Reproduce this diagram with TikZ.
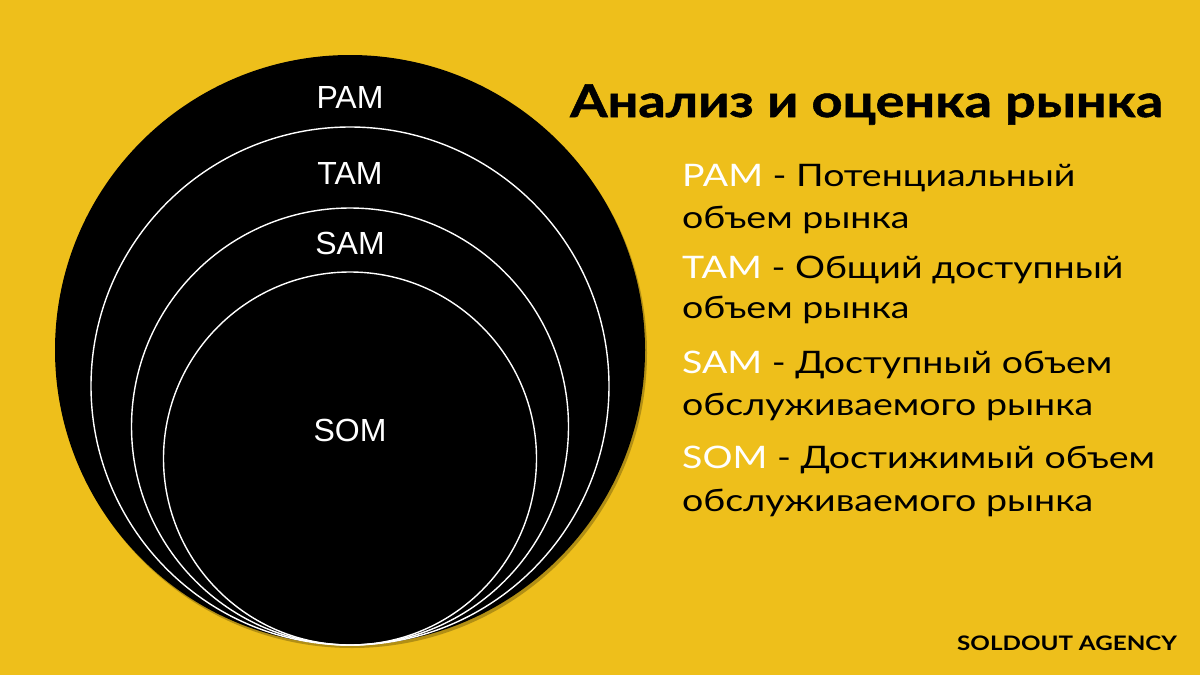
\documentclass[tikz,border=0pt]{standalone}
\usepackage{fontspec}
\setmainfont{Lato}[FakeStretch=1.21]
\newfontfamily\titlefont{Lato}[FakeStretch=1.2, BoldFeatures={FakeBold=1.2}]
\newfontfamily\lblfont{Liberation Sans}
\definecolor{bgyellow}{HTML}{EEBF1B}
\tikzset{
  ring/.style={circle, draw=white, line width=1.4pt, inner sep=0pt},
  ringlbl/.style={text=white, font=\lblfont\fontsize{32}{36}\selectfont, inner sep=0pt, anchor=base},
  legend/.style={anchor=base west, inner sep=0pt, font=\fontsize{31}{36}\selectfont, text=black}
}
\begin{document}
\begin{tikzpicture}[x=1pt,y=-1pt]
\fill[bgyellow] (0,0) rectangle (1200,675);
\useasboundingbox (0,0) rectangle (1200,675);
% shadow
\fill[black, opacity=0.25] (352,353) circle (295);
\node[circle, fill=black, minimum size=590pt, inner sep=0pt] (pam) at (350,350) {};
\node[ring, minimum size=518pt] (tam) at (350,386) {};
\node[ring, minimum size=437pt] (sam) at (350,426.5) {};
\node[ring, minimum size=373pt] (som) at (350,458.5) {};
\node[ringlbl] (lpam) at (350,108) {PAM};
\node[ringlbl] (ltam) at (350,184) {TAM};
\node[ringlbl] (lsam) at (350,254) {SAM};
\node[ringlbl] (lsom) at (350,441) {SOM};
\node[anchor=base west, inner sep=0pt, font=\titlefont\bfseries\fontsize{45}{50}\selectfont] (title) at (570,117) {Анализ и оценка рынка};
\node[legend] (l1) at (682,186) {\textcolor{white}{PAM} - Потенциальный};
\node[legend] (l2) at (682,228) {объем рынка};
\node[legend] (l3) at (682,278) {\textcolor{white}{TAM} - Общий доступный};
\node[legend] (l4) at (682,318) {объем рынка};
\node[legend] (l5) at (682,373) {\textcolor{white}{SAM} - Доступный объем};
\node[legend] (l6) at (682,415) {обслуживаемого рынка};
\node[legend] (l7) at (682,468) {\textcolor{white}{SOM} - Достижимый объем};
\node[legend] (l8) at (682,511) {обслуживаемого рынка};
\node[anchor=base west, inner sep=0pt, font=\bfseries\fontsize{20}{24}\selectfont] (brand) at (957,650) {SOLDOUT AGENCY};
\end{tikzpicture}
\end{document}
